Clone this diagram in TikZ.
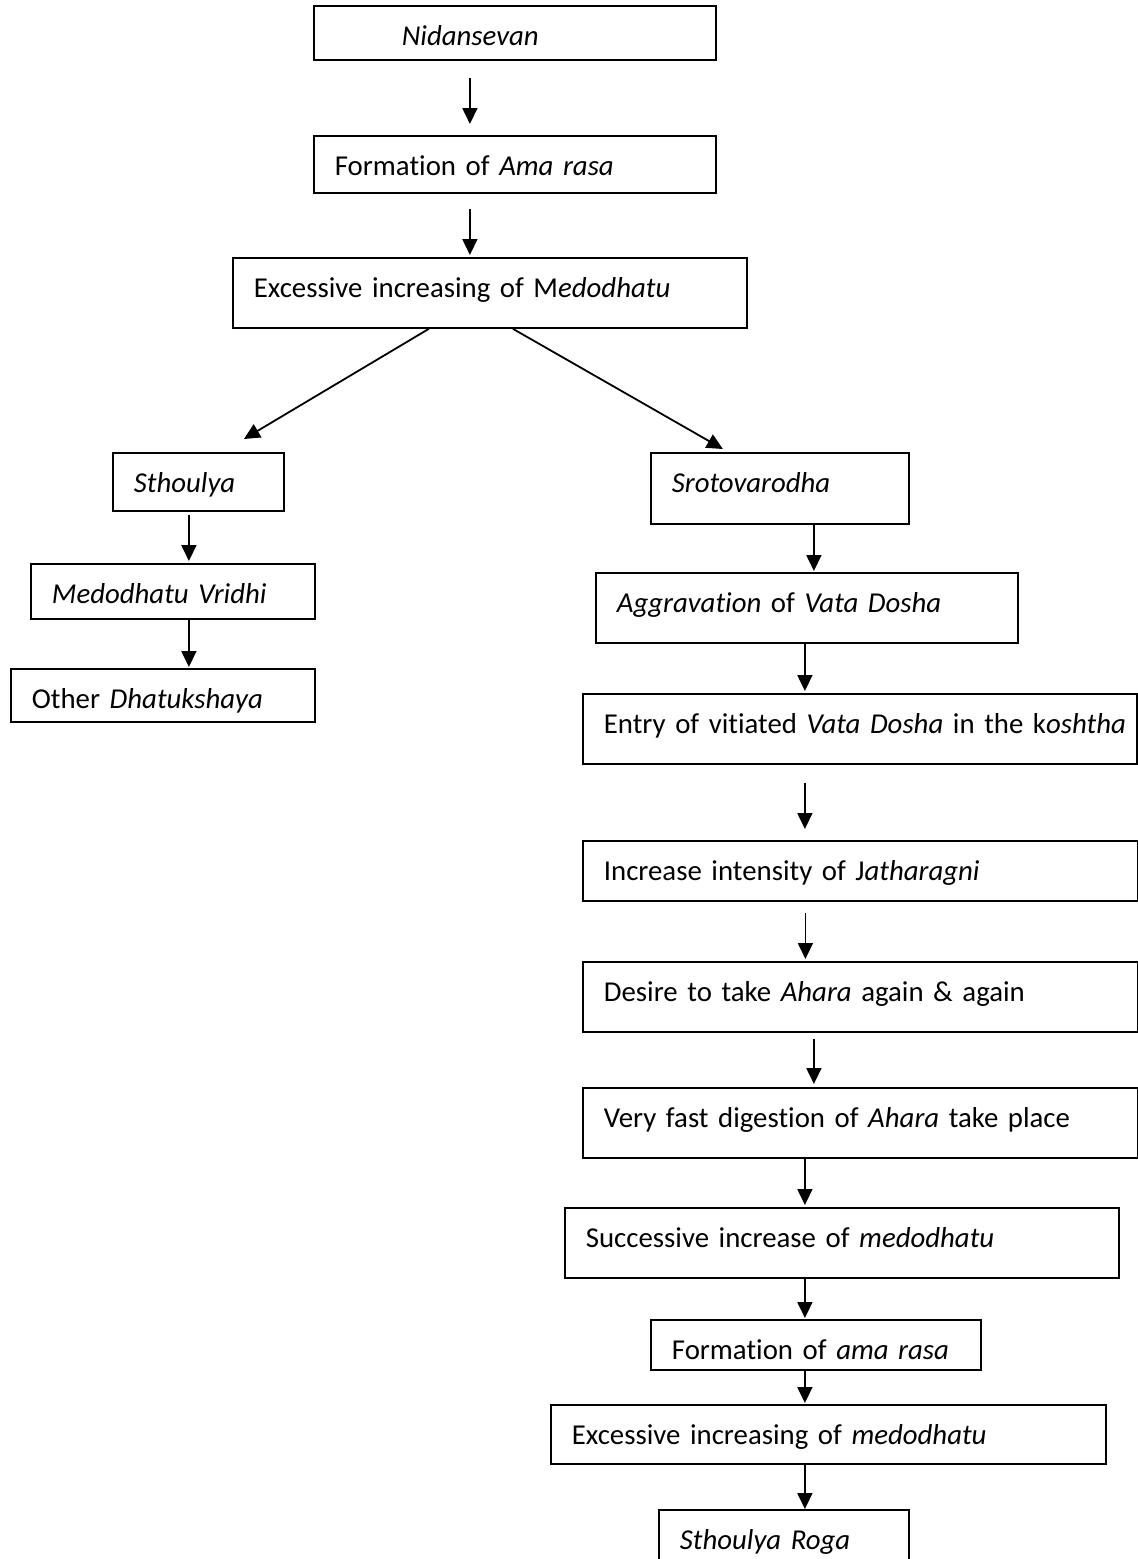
\documentclass[tikz,border=0pt]{standalone}
\usepackage{fontspec}
\setmainfont{Carlito}[Ligatures=NoCommon, WordSpace={0.7,0,0}]
\usetikzlibrary{arrows.meta}
\newcommand{\padtext}{10.5pt}
\tikzset{
    box/.style={draw, rectangle, line width=0.9pt, anchor=north west, align=left,
        inner xsep=\padtext, inner ysep=0pt, text height=20pt,
        font=\fontsize{14.4pt}{18pt}\selectfont},
    arr/.style={-{Triangle[length=8pt, width=7.5pt]}, line width=0.9pt}
}

\begin{document}
\begin{tikzpicture}[x=0.5pt, y=-0.5pt]
    \useasboundingbox (0,0) rectangle (1138,1559);

    % top of the chain
    \node[box, text width=180pt, text depth=7pt] (nidan) at (313,5) {\hspace{33.5pt}\textit{Nidansevan}};
    \node[box, text width=180pt, text depth=8.5pt] (amarasa) at (313,135) {Formation of \textit{Ama rasa}};
    \node[box, text width=236pt, text depth=15pt] (medo) at (232,257) {Excessive increasing of M\textit{edodhatu}};

    % left branch
    \node[box, text width=64.5pt, text depth=9pt] (sthoulya) at (112,452) {\textit{Sthoulya}};
    \node[box, text width=121pt, text depth=7.5pt] (vridhi) at (30,563) {\textit{Medodhatu Vridhi}};
    \node[box, text width=131pt, text depth=6.5pt] (dhatu) at (10,668) {Other \textit{Dhatukshaya}};

    % right branch
    \node[box, text width=108pt, text depth=15.5pt] (sroto) at (650,452) {\textit{Srotovarodha}};
    \node[box, text width=190pt, text depth=15pt] (vata) at (595,572) {\textit{Aggravation} of \textit{Vata Dosha}};
    \node[box, text width=256pt, text depth=15pt] (entry) at (582,693) {\mbox{Entry of vitiated \textit{Vata Dosha} in the k\textit{oshtha}}};
    \node[box, text width=256.5pt, text depth=10pt] (agni) at (582,840) {Increase intensity of J\textit{atharagni}};
    \node[box, text width=256.5pt, text depth=15pt] (desire) at (582,961) {Desire to take \textit{Ahara} again \& again};
    \node[box, text width=256.5pt, text depth=15pt] (digest) at (582,1087) {Very fast digestion of \textit{Ahara} take place};
    \node[box, text width=256pt, text depth=15pt] (succ) at (564,1207) {Successive increase of \textit{medodhatu}};
    \node[box, text width=144pt, text depth=5pt] (amarasatwo) at (650,1319) {Formation of \textit{ama rasa}};
    \node[box, text width=256.5pt, text depth=9.5pt] (excess) at (550,1404) {Excessive increasing of \textit{medodhatu}};
    \node[box, text width=104pt, text depth=10pt] (roga) at (658,1509) {\textit{Sthoulya Roga}};

    % arrows
    \draw[arr, shorten <=8.5pt, shorten >=5.5pt] ([xshift=-22.5pt]nidan.south) -- ([xshift=-22.5pt]amarasa.north);
    \draw[arr, shorten <=7.5pt, shorten >=1pt] ([xshift=-22.5pt]amarasa.south) -- ([xshift=-22.5pt]amarasa.south |- medo.north);
    \draw[arr] ([xshift=-30.5pt]medo.south) -- ([xshift=22.75pt, yshift=6.5pt]sthoulya.north);
    \draw[arr] ([xshift=11.5pt]medo.south) -- ([xshift=-28.5pt, yshift=1.5pt]sroto.north);

    \draw[arr, shorten <=1.5pt, shorten >=1pt] ([xshift=-4.75pt]sthoulya.south) -- ([xshift=-4.75pt]sthoulya.south |- vridhi.north);
    \draw[arr, shorten >=0.5pt] ([xshift=-4.75pt]sthoulya.south |- vridhi.south) -- ([xshift=-4.75pt]sthoulya.south |- dhatu.north);

    \draw[arr, shorten >=0.5pt] ([xshift=17pt]sroto.south) -- ([xshift=17pt]sroto.south |- vata.north);
    \draw[arr, shorten >=1pt] ([xshift=-1pt]vata.south) -- ([xshift=-1pt]vata.south |- entry.north);
    \draw[arr, shorten <=9pt, shorten >=5.5pt] ([xshift=-27.5pt]entry.south) -- ([xshift=-27.5pt]entry.south |- agni.north);
    \draw[arr, shorten <=5.5pt, shorten >=1pt] ([xshift=-27.5pt]agni.south) -- ([xshift=-27.5pt]agni.south |- desire.north);
    \draw[arr, shorten <=3pt, shorten >=1.5pt] ([xshift=-23.25pt]desire.south) -- ([xshift=-23.25pt]desire.south |- digest.north);
    \draw[arr, shorten >=1pt] ([xshift=-27.75pt]digest.south) -- ([xshift=-27.75pt]digest.south |- succ.north);
    \draw[arr, shorten >=0.5pt] ([xshift=-27.75pt]digest.south |- succ.south) -- ([xshift=-27.75pt]digest.south |- amarasatwo.north);
    \draw[arr, shorten >=0.5pt] ([xshift=-27.75pt]digest.south |- amarasatwo.south) -- ([xshift=-27.75pt]digest.south |- excess.north);
    \draw[arr] ([xshift=-27.75pt]digest.south |- excess.south) -- ([xshift=-27.75pt]digest.south |- roga.north);
\end{tikzpicture}
\end{document}
